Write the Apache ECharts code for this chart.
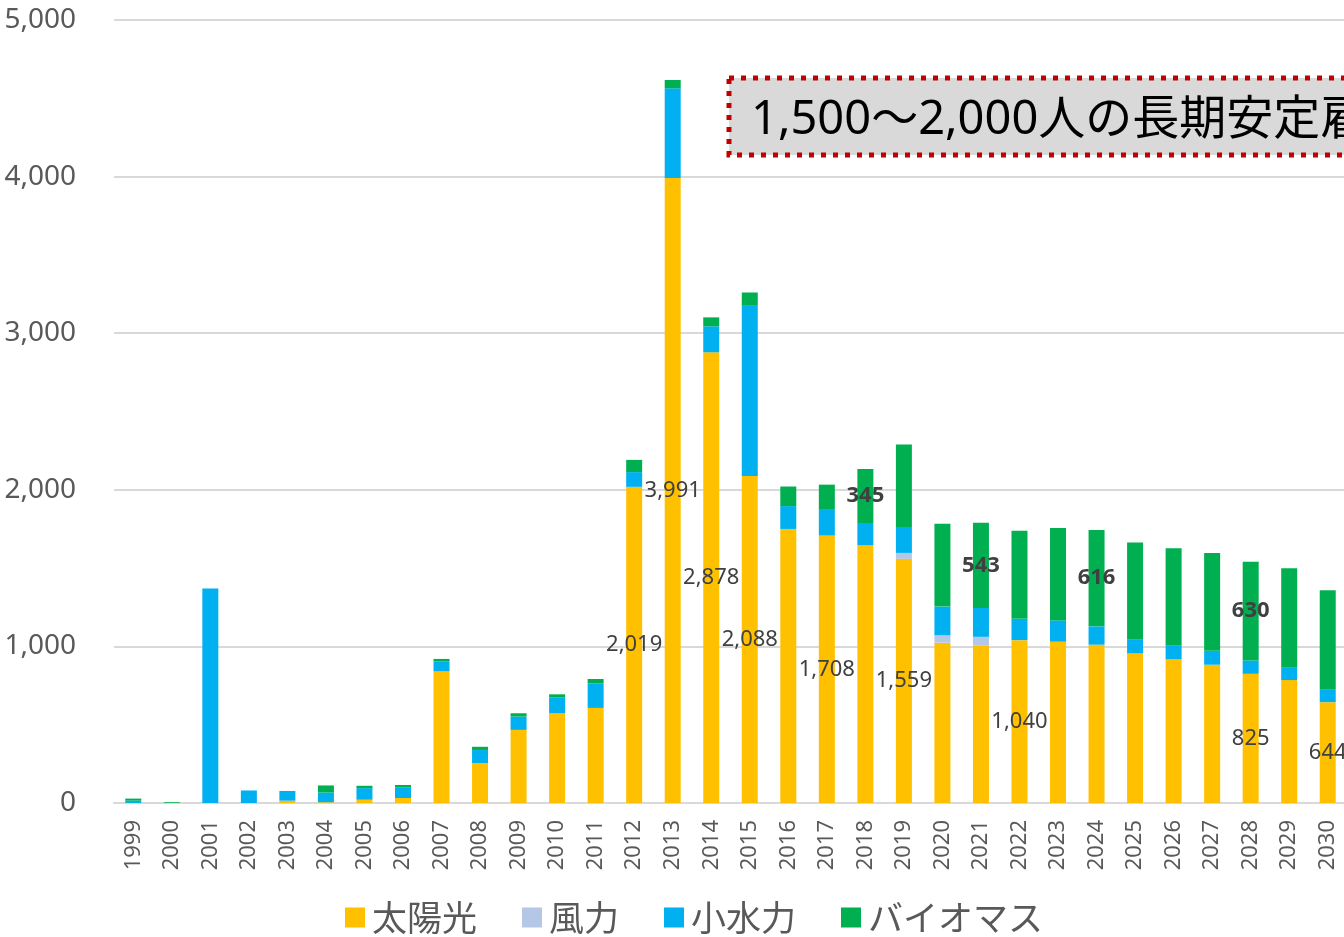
<!DOCTYPE html>
<html>
<head>
<meta charset="utf-8">
<title>雇用</title>
<script src="https://cdn.jsdelivr.net/npm/echarts@6/dist/echarts.min.js"></script>
<style>
    html, body {margin: 0; padding: 0; background: #fff;}
    #main {width: 1344px; height: 937px;}
</style>
</head>
<body>
<div id="main"></div>
<script>
var years = ['1999','2000','2001','2002','2003','2004','2005','2006','2007','2008','2009','2010',
    '2011','2012','2013','2014','2015','2016','2017','2018','2019','2020','2021','2022',
    '2023','2024','2025','2026','2027','2028','2029','2030'];
var solar = [0,0,0,0,15,5,21,32,841,255,467,573,607,2019,3991,2878,2088,1750,1708,1645,1559,1024,1004,1040,1030,1011,955,917,883,825,785,644];
var wind = [0,0,0,0,0,0,0,0,0,0,0,0,0,0,0,0,0,0,0,0,38,47,57,0,0,0,0,0,0,0,0,0];
var hydro = [15,0,1370,80,62,62,74,66,64,83,85,100,157,94,573,166,1087,146,164,143,166,183,185,136,136,117,87,87,89,85,83,83];
var bio = [13,5,0,0,0,45,15,17,15,21,21,21,28,78,53,57,85,125,161,345,527,529,543,562,590,616,622,622,624,630,631,631];
// years that get a value label
var solarLabelYears = ['2012','2013','2014','2015','2017','2019','2022','2028','2030'];
var bioLabelYears = ['2018','2021','2024','2028'];
var yTicks = [0, 1000, 2000, 3000, 4000, 5000];
var noteText = '1,500～2,000人の長期安定雇用';

var grey = '#595959';
var fmt = function (p) {
    return Number(p.value).toLocaleString('en-US');
};

function withLabels(values, labelYears, bold) {
    var out = [];
    for (var i = 0; i < values.length; i++) {
        if (labelYears.indexOf(years[i]) >= 0) {
            out.push({
                value: values[i],
                label: {
                    show: true,
                    position: 'inside',
                    formatter: fmt,
                    color: '#404040',
                    fontSize: 22,
                    fontWeight: bold ? 'bold' : 'normal',
                    fontFamily: 'Noto Sans'
                }
            });
        } else {
            out.push(values[i]);
        }
    }
    return out;
}

var chart = echarts.init(document.getElementById('main'));
var option = {
    animation: false,
    backgroundColor: '#fff',
    grid: {
        left: 114,
        top: 20,
        width: 1233,
        height: 783,
        outerBoundsMode: 'none'
    },
    legend: {
        left: 340,
        top: 895,
        itemWidth: 20,
        itemHeight: 20,
        itemGap: 45,
        icon: 'rect',
        textStyle: {
            color: grey,
            fontSize: 35,
            fontFamily: 'Noto Sans CJK JP',
            padding: [0, 0, 0, 2]
        },
        data: ['太陽光', '風力', '小水力', 'バイオマス']
    },
    xAxis: {
        type: 'category',
        data: years,
        axisLine: {lineStyle: {color: '#D9D9D9', width: 2}},
        axisTick: {show: false},
        axisLabel: {
            rotate: 90,
            margin: 17,
            interval: 0,
            color: grey,
            fontSize: 22,
            fontFamily: 'Noto Sans'
        }
    },
    yAxis: {
        type: 'value',
        min: yTicks[0],
        max: yTicks[yTicks.length - 1],
        interval: yTicks[1] - yTicks[0],
        axisLine: {show: false},
        axisTick: {show: false},
        splitLine: {lineStyle: {color: '#D9D9D9', width: 2}},
        axisLabel: {
            margin: 38,
            color: grey,
            fontSize: 28,
            fontFamily: 'Noto Sans',
            formatter: function (v) {
                return v.toLocaleString('en-US');
            }
        }
    },
    series: [
        {name: '太陽光', type: 'bar', stack: 'all', barWidth: 16, itemStyle: {color: '#FFC000'},
            data: withLabels(solar, solarLabelYears, false)},
        {name: '風力', type: 'bar', stack: 'all', barWidth: 16, itemStyle: {color: '#B4C7E7'},
            data: wind},
        {name: '小水力', type: 'bar', stack: 'all', barWidth: 16, itemStyle: {color: '#00B0F0'},
            data: hydro},
        {name: 'バイオマス', type: 'bar', stack: 'all', barWidth: 16, itemStyle: {color: '#00B050'},
            data: withLabels(bio, bioLabelYears, true)}
    ],
    graphic: [
        {
            type: 'rect',
            z: 100,
            shape: {x: 729, y: 78, width: 700, height: 77},
            style: {
                fill: '#D9D9D9',
                stroke: '#C00000',
                lineWidth: 5,
                lineDash: [5, 7]
            }
        },
        {
            type: 'text',
            z: 101,
            x: 751,
            y: 121,
            style: {
                text: noteText,
                fill: '#000',
                font: '47px "Noto Sans", "Noto Sans CJK JP"',
                verticalAlign: 'middle'
            }
        }
    ]
};
chart.setOption(option);
</script>
</body>
</html>
